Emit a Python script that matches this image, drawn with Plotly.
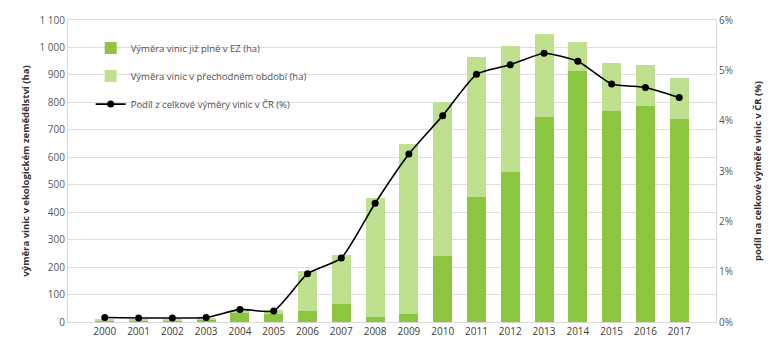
import plotly.graph_objects as go

years = [str(y) for y in range(2000, 2018)]
full_ez = [5, 5, 5, 8, 32, 30, 40, 66, 20, 30, 240, 455, 545, 745, 915, 770, 785, 740]
total = [10, 8, 8, 15, 42, 42, 185, 245, 453, 648, 803, 965, 1005, 1050, 1020, 945, 935, 890]
transition = [t - f for t, f in zip(total, full_ez)]
share_pct = [0.09, 0.08, 0.08, 0.09, 0.25, 0.22, 0.96, 1.27, 2.36, 3.34, 4.10, 4.92, 5.11, 5.34, 5.18, 4.73, 4.66, 4.46]

names = ["Výměra vinic již plně v EZ (ha)",
         "Výměra vinic v přechodném období (ha)",
         "Podíl z celkové výměry vinic v ČR (%)"]

dark = "#8cc540"
light = "#bfe08f"
txt = "#404040"
font = "Open Sans"

fig = go.Figure()
fig.add_trace(go.Bar(x=years, y=full_ez, name=names[0], marker=dict(color=dark, line=dict(width=0)),
                     legendgroup="a"))
fig.add_trace(go.Bar(x=years, y=transition, name=names[1], marker=dict(color=light, line=dict(width=0)),
                     legendgroup="b"))
fig.add_trace(go.Scatter(x=years, y=share_pct, name=names[2], yaxis="y2", mode="lines+markers",
                         line=dict(color="black", width=1.6, shape="spline", smoothing=0.5),
                         marker=dict(color="black", size=7), legendgroup="c"))

fig.update_layout(
    width=774, height=350,
    margin=dict(l=68, r=57, t=17, b=26),
    barmode="stack", bargap=0.44,
    separators=", ",
    plot_bgcolor="white", paper_bgcolor="white",
    font=dict(family=font, size=10, color=txt),
    legend=dict(x=0.035, y=0.955, xanchor="left", yanchor="top", bgcolor="rgba(0,0,0,0)",
                traceorder="grouped", tracegroupgap=9, font=dict(size=9.5, color="#505050"),
                itemwidth=30),
    xaxis=dict(type="category", showline=True, linecolor="#d9d9d9", mirror=True,
               ticks="", tickfont=dict(size=10, color=txt)),
    yaxis=dict(range=[0, 1100], dtick=100, tickformat=",d", showgrid=True, gridcolor="#dedede",
               showline=True, linecolor="#d9d9d9", zeroline=False,
               tickfont=dict(size=10, color="#595959"),
               title=dict(text="<b>výměra vinic v ekologickém zemědělství (ha)</b>",
                          font=dict(size=9.5, color="#303030"), standoff=8)),
    yaxis2=dict(range=[0, 6], dtick=1, ticksuffix="%", overlaying="y", side="right",
                showgrid=False, zeroline=False, showline=True, linecolor="#d9d9d9",
                tickfont=dict(size=10, color="#595959"),
                title=dict(text="<b>podíl na celkové výměře vinic v ČR (%)</b>",
                           font=dict(size=9.5, color="#303030"), standoff=22)),
)

fig.write_html("out.html")
